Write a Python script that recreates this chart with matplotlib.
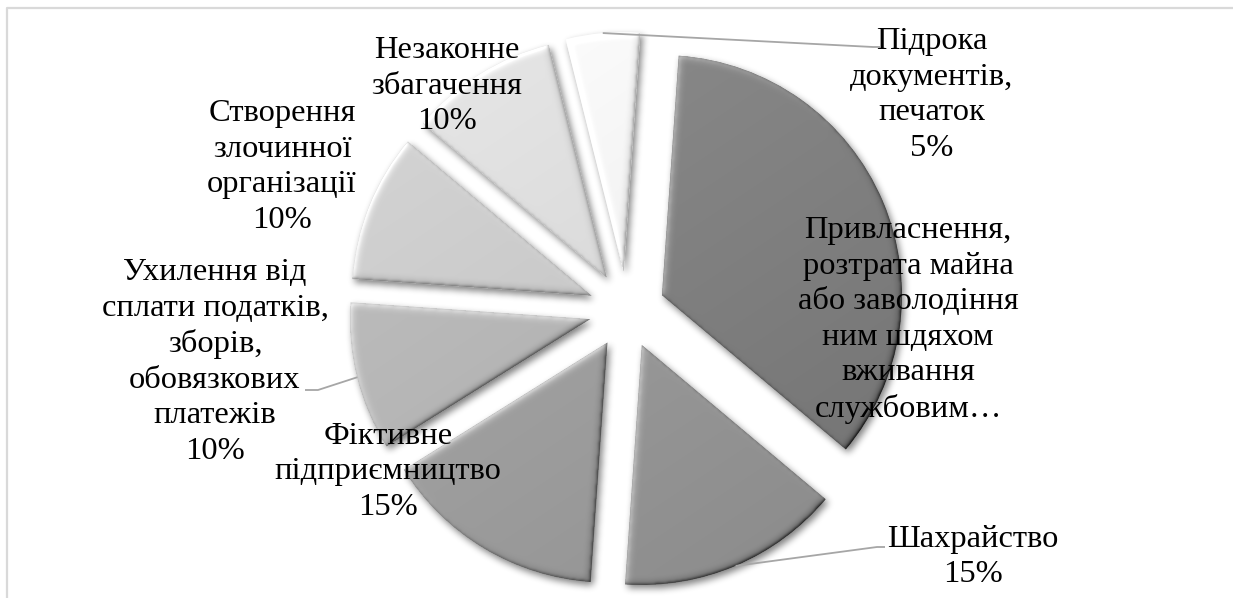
import numpy as np
import matplotlib
matplotlib.use("Agg")
import matplotlib.pyplot as plt

# ---------------- data ----------------
categories = [
    "Привласнення,\nрозтрата майна\nабо заволодіння\nним шдяхом\nвживання\nслужбовим…",
    "Шахрайство",
    "Фіктивне\nпідприємництво",
    "Ухилення від\nсплати податків,\nзборів,\nобовязкових\nплатежів",
    "Створення\nзлочинної\nорганізації",
    "Незаконне\nзбагачення",
    "Підрока\nдокументів,\nпечаток",
]
values = [35, 15, 15, 10, 10, 10, 5]
show_pct = [False, True, True, True, True, True, True]

# ---------------- style / layout ----------------
W, H = 1233, 598
slice_grays = [0.50, 0.59, 0.62, 0.71, 0.79, 0.86, 0.95]
# label centres in screen pixels (x, y from top)
label_pos = [(908, 320), (973, 557), (388, 472), (215, 362), (282, 167), (447, 86), (932, 95)]
# leader lines (screen px) for labels placed outside: slice index -> polyline after arc point
leaders = {6: [(873, 47), (880, 47)], 3: [(318, 390), (305, 390)], 1: [(877, 547), (885, 547)]}

FONT = "Liberation Serif"
FS = 23.4


def sy(y):
    return H - y


def box_blur(a, r):
    k = 2 * r + 1
    p = np.pad(a, ((r, r), (0, 0)), mode="edge")
    c = np.cumsum(p, axis=0)
    c = np.vstack([np.zeros((1, c.shape[1])), c])
    a = (c[k:] - c[:-k]) / k
    p = np.pad(a, ((0, 0), (r, r)), mode="edge")
    c = np.cumsum(p, axis=1)
    c = np.hstack([np.zeros((c.shape[0], 1)), c])
    return (c[:, k:] - c[:, :-k]) / k


def gblur(a, r, n=3):
    for _ in range(n):
        a = box_blur(a, r)
    return a


def emboss(m, r):
    b = gblur(m, r)
    gy, gx = np.gradient(b)
    sd = np.sqrt(3 * ((2 * r + 1) ** 2 - 1) / 12.0)
    peak = 1.0 / (np.sqrt(2 * np.pi) * sd)
    return np.clip((gx + gy) / np.sqrt(2) / peak, -1.3, 1.3)


fig = plt.figure(figsize=(W / 100, H / 100), dpi=100)
ax = fig.add_axes([0, 0, 1, 1])

wedges, _ = ax.pie(
    values,
    colors=[str(g) for g in slice_grays],
    startangle=86,
    counterclock=False,
    radius=240,
    center=(627, sy(310)),
    explode=[38] * len(values),
    wedgeprops=dict(linewidth=0),
    frame=True,
)
ax.set_xlim(0, W)
ax.set_ylim(0, H)
ax.set_aspect("auto")
ax.axis("off")

# ---------- soft drop shadow ----------
xs = np.arange(W) + 0.5
ys = H - (np.arange(H) + 0.5)
X, Y = np.meshgrid(xs, ys)
pts_shadow = np.c_[X.ravel() - 2.5, Y.ravel() + 3.5]
smask = np.zeros(X.shape)
for w in wedges:
    path = w.get_patch_transform().transform_path(w.get_path())
    smask = np.maximum(smask, path.contains_points(pts_shadow).reshape(X.shape).astype(float))
sblur = gblur(smask, 3)
shadow = np.zeros((H, W, 4))
shadow[..., 3] = 0.5 * sblur
ax.imshow(shadow, extent=(0, W, 0, H), origin="upper", zorder=0.5, interpolation="bilinear")

# ---------- bevel shading per slice ----------
for w, g in zip(wedges, slice_grays):
    path = w.get_patch_transform().transform_path(w.get_path())
    ext = path.get_extents()
    x0 = max(int(np.floor(ext.x0)) - 14, 0)
    x1 = min(int(np.ceil(ext.x1)) + 14, W)
    y0 = max(int(np.floor(ext.y0)) - 14, 0)
    y1 = min(int(np.ceil(ext.y1)) + 14, H)
    sx = np.arange(x0, x1) + 0.5
    syv = np.arange(y1, y0, -1) - 0.5
    SX, SY = np.meshgrid(sx, syv)
    m = path.contains_points(np.c_[SX.ravel(), SY.ravel()]).reshape(SX.shape).astype(float)
    e1 = emboss(m, 1)
    e3 = emboss(m, 3)
    rim = gblur(m, 1)
    rim_dark = np.clip(1 - rim, 0, 1) * m
    val = g + 0.16 * e1 + 0.14 * e3 - 0.22 * rim_dark
    cx, cy = w.center
    val = val + 0.03 * ((SY - cy) / 240.0) - 0.02 * ((SX - cx) / 240.0)
    val = np.clip(val, 0, 1)
    img = np.zeros(SX.shape + (4,))
    img[..., 0] = val
    img[..., 1] = val
    img[..., 2] = val
    img[..., 3] = 1.0
    im = ax.imshow(img, extent=(x0, x1, y0, y1), origin="upper", zorder=2,
                   interpolation="bilinear")
    im.set_clip_path(w)

# ---------- leader lines ----------
for idx, pts in leaders.items():
    w = wedges[idx]
    tm = np.deg2rad((w.theta1 + w.theta2) / 2)
    px = w.center[0] + w.r * np.cos(tm)
    py = w.center[1] + w.r * np.sin(tm)
    lx = [px] + [p[0] for p in pts]
    ly = [py] + [sy(p[1]) for p in pts]
    ax.plot(lx, ly, color="#a6a6a6", lw=1.3, zorder=2.5, solid_capstyle="butt")

# ---------- labels ----------
for i, (cat, v) in enumerate(zip(categories, values)):
    txt = cat + (f"\n{v}%" if show_pct[i] else "")
    x, y = label_pos[i]
    ax.text(x, sy(y), txt, ha="center", va="center", multialignment="center",
            fontsize=FS, family=FONT, color="black", linespacing=1.29, zorder=5)

# ---------- chart border ----------
ax.plot([7, 7, W], [0, sy(8), sy(8)], color="#d9d9d9", lw=1.6, zorder=6, clip_on=False)

fig.savefig("out.png", dpi=100)
